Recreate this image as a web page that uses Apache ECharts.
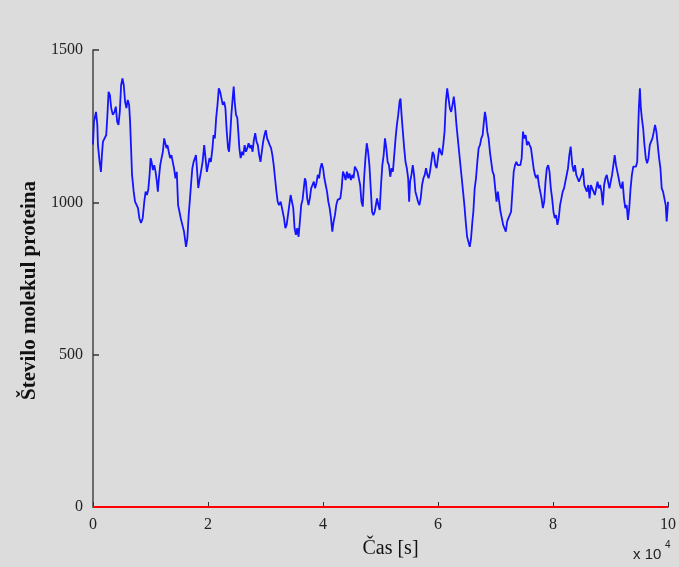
<!DOCTYPE html>
<html>
<head>
<meta charset="utf-8">
<script src="https://cdn.jsdelivr.net/npm/echarts@6/dist/echarts.min.js"></script>
<style>
html,body{margin:0;padding:0;background:#dcdcdc;}
#chart{width:679px;height:567px;}
</style>
</head>
<body>
<div id="chart"></div>
<script>
// time in units of 10^4 s
const times = [
0,0.017,0.052,0.075,0.086,0.115,0.138,0.155,0.173,0.202,0.230,0.248,0.271,0.294,0.317,0.345,0.374,0.397,0.420,0.443,0.466,0.489,0.512,0.535,0.558,0.581,0.604,0.628,0.645,0.662,0.679,0.708,0.731,0.760,0.783,0.806,0.835,0.864,0.892,0.915,0.938,0.961,0.984,1.002,1.019,1.042,1.065,1.088,1.111,1.128,1.146,1.169,1.192,1.215,1.238,1.255,1.278,1.295,1.318,1.341,1.364,1.387,1.410,1.434,1.457,1.480,1.503,1.526,1.554,1.583,
1.618,1.641,1.664,1.687,1.704,1.727,1.750,1.773,1.790,1.808,1.831,1.848,1.877,1.906,1.934,1.957,1.980,2.003,2.026,2.050,2.078,2.096,2.119,2.142,2.165,2.188,2.211,2.234,2.257,2.280,2.303,2.326,2.349,2.366,2.383,2.406,2.429,2.447,2.464,2.487,2.510,2.527,2.545,2.568,2.591,2.614,2.637,2.660,2.683,2.706,2.729,2.752,2.775,2.798,2.821,2.844,2.867,2.890,2.913,2.936,2.959,2.982,3.005,3.028,3.051,3.074,3.097,3.120,3.143,3.166,3.190,3.212,3.235,
3.264,3.287,3.310,3.322,3.345,3.368,3.391,3.414,3.437,3.460,3.483,3.506,3.529,3.552,3.575,3.598,3.621,3.644,3.667,3.685,3.702,3.725,3.748,3.771,3.794,3.817,3.840,3.863,3.886,3.909,3.932,3.955,3.978,4.001,4.024,4.047,4.070,4.093,4.116,4.139,4.162,4.185,4.208,4.231,4.254,4.278,4.301,4.324,4.347,4.370,4.393,4.416,4.439,4.462,4.485,4.508,4.531,4.554,4.577,4.600,4.623,4.646,4.669,4.692,4.715,4.738,4.761,4.784,4.807,4.830,4.853,4.876,4.899,4.922,
4.940,4.963,4.986,5.009,5.032,5.055,5.078,5.101,5.124,5.147,5.170,5.193,5.216,5.239,5.262,5.285,5.308,5.331,5.348,5.366,5.389,5.412,5.435,5.458,5.481,5.498,5.515,5.538,5.561,5.584,5.607,5.630,5.653,5.677,5.699,5.723,5.746,5.769,5.792,5.815,5.838,5.861,5.884,5.907,5.930,5.953,5.976,5.999,6.022,6.045,6.068,6.091,6.114,6.137,6.160,6.183,6.206,6.229,6.252,6.275,6.298,6.321,6.344,6.367,6.390,6.413,6.436,6.459,6.482,6.506,6.528,6.552,6.575,6.598,
6.615,6.638,6.661,6.684,6.707,6.730,6.753,6.776,6.793,6.816,6.834,6.857,6.880,6.903,6.926,6.949,6.972,6.995,7.018,7.041,7.064,7.087,7.110,7.133,7.156,7.179,7.202,7.225,7.248,7.271,7.294,7.317,7.340,7.363,7.386,7.409,7.432,7.455,7.478,7.501,7.525,7.547,7.571,7.594,7.617,7.640,7.663,7.686,7.709,7.732,7.755,7.778,7.801,7.824,7.847,7.870,7.893,7.916,7.939,7.962,7.985,8.008,8.031,8.054,8.077,8.100,8.123,8.146,8.169,8.192,8.215,8.238,8.261,8.284,8.307,
8.336,8.359,8.382,8.405,8.428,8.451,8.474,8.497,8.520,8.544,8.566,8.589,8.613,8.636,8.659,8.682,8.705,8.728,8.751,8.774,8.797,8.820,8.843,8.866,8.889,8.912,8.935,8.958,8.981,9.004,9.027,9.050,9.073,9.096,9.119,9.142,9.165,9.188,9.211,9.234,9.257,9.281,9.303,9.326,9.349,9.372,9.396,9.419,9.442,9.465,9.476,9.493,9.511,9.528,9.545,9.568,9.591,9.614,9.637,9.660,9.683,9.706,9.729,9.753,9.775,9.798,9.822,9.845,9.868,9.891,9.914,9.937,9.960,9.977,9.994,10.000
];
const proteins = [
1190,1265,1297,1254,1188,1133,1100,1155,1199,1205,1221,1277,1363,1352,1309,1287,1297,1314,1265,1254,1297,1385,1407,1385,1330,1309,1336,1320,1265,1178,1090,1035,1002,1002,981,948,932,948,1002,1035,1024,1041,1090,1145,1133,1106,1122,1100,1068,1035,1079,1122,1145,1166,1210,1216,1178,1188,1166,1145,1155,1133,1111,1079,1100,991,970,948,926,904,
854,882,958,1013,1057,1111,1133,1145,1155,1111,1047,1068,1100,1133,1188,1145,1100,1122,1145,1133,1178,1221,1210,1277,1320,1374,1363,1341,1320,1330,1309,1232,1178,1166,1210,1287,1341,1380,1330,1287,1277,1232,1178,1145,1166,1155,1188,1166,1178,1194,1178,1188,1166,1205,1227,1199,1188,1155,1133,1133,1199,1221,1237,1210,1199,1188,1178,1155,1122,1079,1035,1002,991,
1002,981,981,948,915,926,958,991,1024,1030,981,915,893,915,887,937,991,1008,1013,1079,1068,1013,991,1013,1046,1057,1068,1046,1063,1090,1079,1112,1128,1112,1079,1057,1035,1002,981,948,904,937,958,991,1008,1008,1013,1046,1101,1090,1073,1101,1079,1095,1073,1090,1079,1117,1112,1101,1101,1057,1002,986,1079,1145,1194,1166,1122,1046,969,958,969,963,
1013,991,975,1057,1122,1155,1210,1178,1133,1122,1084,1112,1101,1101,1210,1254,1287,1330,1341,1287,1232,1178,1133,1112,1079,1002,1068,1090,1122,1090,1035,1019,1002,991,1013,1057,1079,1090,1112,1090,1079,1101,1133,1166,1155,1122,1112,1145,1178,1166,1155,1188,1232,1330,1374,1341,1309,1297,1320,1347,1309,1254,1210,1166,1122,1079,1035,991,937,887,871,854,882,937,
969,1046,1079,1133,1178,1188,1210,1221,1254,1297,1277,1232,1210,1166,1133,1101,1090,1046,1002,1035,1002,969,948,926,915,904,937,948,948,969,1035,1101,1122,1133,1122,1122,1122,1145,1232,1210,1221,1188,1199,1188,1178,1145,1112,1090,1079,1090,1057,1035,1013,981,1002,1068,1112,1122,1101,1046,1013,969,948,958,926,948,991,1013,1035,1046,1068,1073,1112,1155,1183,
1122,1101,1122,1090,1079,1068,1079,1090,1112,1057,1046,1035,1057,1013,1057,1046,1035,1024,1046,1068,1046,1057,1035,991,1057,1079,1090,1068,1046,1068,1090,1122,1155,1122,1101,1079,1057,1046,1068,1013,981,991,942,981,1046,1090,1117,1122,1117,1133,1210,1308,1374,1309,1277,1243,1188,1145,1128,1145,1188,1199,1210,1232,1254,1232,1188,1145,1112,1046,1035,1035,991,937,981,1002
];
const mrnaTimes = [0, 10];
const mrnaCounts = [0, 0];
const xTicks = [0, 2, 4, 6, 8, 10];
const yTicks = [0, 500, 1000, 1500];

const serif = '"Liberation Serif", "DejaVu Serif", serif';
const chart = echarts.init(document.getElementById('chart'), null, {renderer: 'canvas'});
chart.setOption({
  animation: false,
  backgroundColor: '#dcdcdc',
  grid: {left: 93, right: 7, top: 50, bottom: 60, containLabel: false},
  xAxis: {
    type: 'value', min: xTicks[0], max: xTicks[xTicks.length - 1], interval: 2,
    axisLine: {show: true, lineStyle: {color: '#333', width: 1}},
    axisTick: {show: true, inside: true, length: 5, lineStyle: {color: '#333'}},
    axisLabel: {margin: 10, fontSize: 16, color: '#222', fontFamily: serif, formatter: v => String(v)},
    splitLine: {show: false},
    name: 'Čas [s]', nameLocation: 'middle', nameGap: 32,
    nameTextStyle: {fontSize: 20, color: '#111', fontFamily: serif, padding: [0, 0, 0, 20]}
  },
  yAxis: {
    type: 'value', min: yTicks[0], max: yTicks[yTicks.length - 1], interval: 500,
    axisLine: {show: true, lineStyle: {color: '#444', width: 1.5}},
    axisTick: {show: true, inside: true, length: 6, lineStyle: {color: '#333', width: 1.5}},
    axisLabel: {margin: 10, fontSize: 16, color: '#222', fontFamily: serif, formatter: v => String(v)},
    splitLine: {show: false},
    name: 'Število molekul proteina', nameLocation: 'middle', nameGap: 53,
    nameTextStyle: {fontSize: 21, fontWeight: 'bold', color: '#111', fontFamily: serif, padding: [0, 24, 0, 0]}
  },
  graphic: [
    {type: 'text', left: 633, top: 547, style: {text: 'x 10', fontSize: 15, fill: '#222', font: '15px "Liberation Serif", serif'}},
    {type: 'text', left: 665, top: 540, style: {text: '4', fontSize: 10, fill: '#222', font: '10px "Liberation Serif", serif'}}
  ],
  series: [
    {
      type: 'line', showSymbol: false, z: 2,
      data: times.map((t, i) => [t, proteins[i]]),
      lineStyle: {color: '#1414ff', width: 1.8},
      itemStyle: {color: '#1414ff'}
    },
    {
      type: 'line', showSymbol: false, z: 3,
      data: mrnaTimes.map((t, i) => [t, mrnaCounts[i]]),
      lineStyle: {color: '#ff0000', width: 2},
      itemStyle: {color: '#ff0000'}
    }
  ]
});
</script>
</body>
</html>
